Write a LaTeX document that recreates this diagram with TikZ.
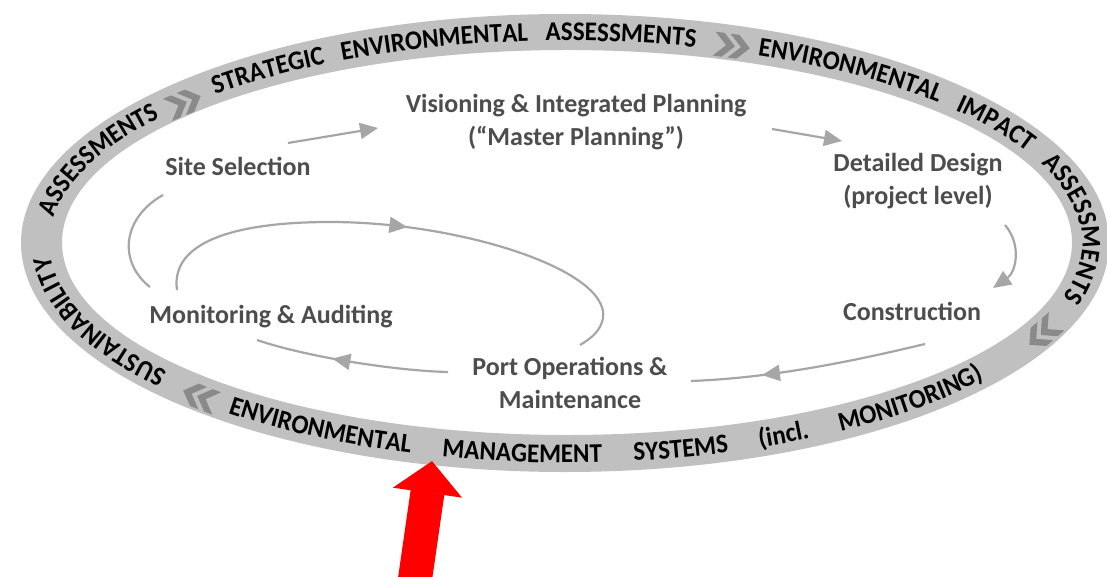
\documentclass[tikz,border=0pt]{standalone}
\usepackage{fontspec}
\setmainfont{Carlito}
\newfontface\bandface[FakeStretch=0.93]{Carlito Bold}
\usetikzlibrary{arrows.meta,decorations.text,decorations.markings,calc}
\definecolor{bandgray}{HTML}{C0C0C0}
\definecolor{chevgray}{HTML}{8A8A8A}
\definecolor{flowgray}{HTML}{A6A6A6}
\definecolor{labelgray}{HTML}{4D4D4D}
\definecolor{arrowred}{HTML}{FF0000}
\newcommand\bandfont{\bandface\fontsize{27}{27}\selectfont}
\begin{document}
\begin{tikzpicture}[x=1pt,y=-1pt,
  stage/.style={font=\fontsize{26}{32.5}\selectfont\bfseries, text=labelgray, align=center, inner sep=0pt},
  flow/.style={draw=flowgray, line width=2.2pt},
  endhead/.style={-{Triangle[length=18pt,width=16pt]}},
  midhead/.style={postaction={decorate}, decoration={markings, mark=at position #1 with {\arrow[color=flowgray]{Triangle[length=18pt,width=16pt]}}}},
  bandlabel/.style={decorate, decoration={text along path, text align={fit to path stretching spaces}, text={#1}}},
  chevs/.pic={
    \fill[chevgray] (-18,-12) -- (-9,-12) -- (3,0) -- (-9,12) -- (-18,12) -- (-6,0) -- cycle;
    \fill[chevgray] (-3,-12) -- (6,-12) -- (18,0) -- (6,12) -- (-3,12) -- (9,0) -- cycle;
  }
]
\fill[white] (0,0) rectangle (1107,577);
\useasboundingbox (0,0) rectangle (1107,577);
\clip (0,0) rectangle (1107,577);

% band
\fill[bandgray, even odd rule] (565,243) ellipse [x radius=544, y radius=229]
                               (567,242.5) ellipse [x radius=505, y radius=192.5];

% band texts (paths are the text baselines)
\path[bandlabel={|\bandfont|SUSTAINABILITY ASSESSMENTS}]
  ($(566,243)+(140.6:516.3 and 202.3)$) arc[start angle=140.6, end angle=218.2, x radius=516.3, y radius=202.3];
\path[bandlabel={|\bandfont|STRATEGIC ENVIRONMENTAL ASSESSMENTS}]
  ($(566,243)+(227.2:516.3 and 202.3)$) arc[start angle=227.2, end angle=284.5, x radius=516.3, y radius=202.3];
\path[bandlabel={|\bandfont|ENVIRONMENTAL IMPACT ASSESSMENTS}]
  ($(566,243)+(291.8:516.3 and 202.3)$) arc[start angle=291.8, end angle=375.5, x radius=516.3, y radius=202.3];
\path[bandlabel={|\bandfont|ENVIRONMENTAL MANAGEMENT SYSTEMS (incl. MONITORING)}]
  ($(566,243)+(129.3:533.7 and 219.7)$) arc[start angle=129.3, end angle=38.4, x radius=533.7, y radius=219.7];

% chevrons
\pic[rotate=22.8] at (184,103) {chevs};
\pic[rotate=-7.6] at (732,46) {chevs};
\pic[rotate=-139.3] at (1043,333) {chevs};
\pic[rotate=158.8] at (200,397) {chevs};

% stages
\node[stage, anchor=base] (site) at (238,176) {Site Selection};
\node[stage] (vis) at (576,122) {Visioning \& Integrated Planning\\(“Master Planning”)};
\node[stage] (design) at (918,181) {Detailed Design\\(project level)};
\node[stage, anchor=base] (constr) at (912,320) {Construction};
\node[stage] (port) at (570,383) {Port Operations \&\\Maintenance};
\node[stage, anchor=base] (monit) at (271,323) {Monitoring \& Auditing};

% connector end points
\coordinate (a1s) at (288,143); \coordinate (a1e) at (378,128);
\coordinate (a2s) at (772,129); \coordinate (a2e) at (842,141);
\coordinate (a3s) at (1005,225); \coordinate (a3e) at (993,288);
\coordinate (a4s) at (925,344); \coordinate (a4e) at (691,381);
\coordinate (a5s) at (448,372); \coordinate (a5e) at (257,340);
\coordinate (a6s) at (150,287); \coordinate (a6e) at (163,195);
\coordinate (a7s) at (177,290); \coordinate (a7e) at (580,345);

\draw[flow, endhead] (a1s) -- (a1e);
\draw[flow, endhead] (a2s) -- (a2e);
\draw[flow, endhead] (a3s) .. controls (1022,245) and (1016,272) .. (a3e);
\draw[flow, midhead=0.7] (a4s) .. controls (850,362) and (770,378) .. (a4e);
\draw[flow, midhead=0.6] (a5s) .. controls (400,371) and (310,358) .. (a5e);
\draw[flow] (a6s) .. controls (118,262) and (122,218) .. (a6e);
\draw[flow, midhead=0.5] (a7s) .. controls (170,240) and (240,222) .. (330,222)
  .. controls (460,222) and (610,270) .. (603,318)
  .. controls (601,330) and (592,338) .. (a7e);

% red arrow
\coordinate (redtail) at (412,600);
\coordinate (redtip) at (432,461);
\draw[arrowred, line width=34pt, -{Triangle[length=32pt,width=68pt]}] (redtail) -- (redtip);
\end{tikzpicture}
\end{document}
